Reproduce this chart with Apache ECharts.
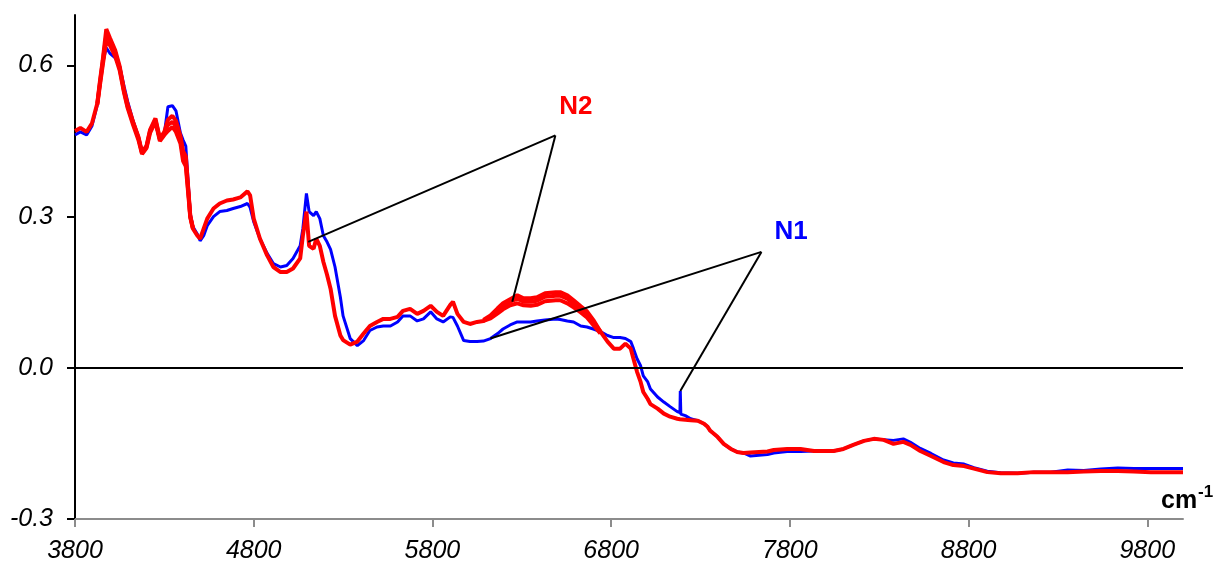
<!DOCTYPE html>
<html>
<head>
<meta charset="utf-8">
<script src="https://cdn.jsdelivr.net/npm/echarts@6/dist/echarts.min.js"></script>
<style>
html,body{margin:0;padding:0;background:#fff;}
#chart{width:1216px;height:566px;}
</style>
</head>
<body>
<div id="chart"></div>
<script>
// Wavenumber (cm-1) sample positions
const xs = [
3800,3830,3865,3895,3925,3940,3955,3975,3995,4025,
4050,4075,4095,4125,4155,4175,4200,4220,4250,4275,
4300,4320,4345,4365,4390,4405,4420,4435,4445,4460,
4485,4500,4520,4540,4575,4610,4650,4685,4725,4765,
4780,4800,4835,4875,4910,4950,4985,5020,5060,5075,
5095,5110,5135,5150,5170,5190,5210,5230,5255,5285,
5300,5340,5380,5415,5450,5490,5525,5565,5605,5635,
5675,5715,5750,5790,5825,5860,5900,5915,5940,5975,
6010,6050,6085,6125,6165,6195,6235,6275,6310,6350,
6385,6430,6490,6515,6555,6590,6630,6665,6700,6740,
6780,6815,6850,6880,6910,6925,6945,6965,6980,7005,
7020,7060,7095,7130,7170,7185,7187,7190,7215,7245,
7285,7320,7340,7355,7395,7430,7470,7505,7540,7580,
7675,7710,7785,7860,7935,8045,8100,8155,8215,8270,
8325,8380,8435,8475,8530,8590,8660,8715,8775,8830,
8905,8980,9075,9165,9260,9355,9445,9540,9635,9725,
9820,9915,10000];

// N1 (blue)
const n1 = [
0.462,0.468,0.462,0.480,0.522,0.565,0.605,0.635,0.624,0.615,
0.598,0.558,0.528,0.490,0.458,0.430,0.440,0.470,0.484,0.452,
0.465,0.518,0.520,0.510,0.466,0.452,0.440,0.360,0.306,0.280,
0.265,0.252,0.262,0.282,0.300,0.310,0.312,0.316,0.320,0.326,
0.318,0.290,0.256,0.227,0.207,0.200,0.203,0.217,0.242,0.276,
0.346,0.310,0.302,0.310,0.296,0.262,0.250,0.235,0.200,0.140,
0.103,0.058,0.044,0.054,0.074,0.081,0.083,0.083,0.091,0.103,
0.103,0.093,0.097,0.111,0.097,0.091,0.101,0.100,0.083,0.054,
0.052,0.052,0.053,0.058,0.068,0.077,0.085,0.091,0.091,0.091,
0.093,0.095,0.097,0.096,0.093,0.091,0.083,0.081,0.077,0.072,
0.064,0.060,0.060,0.058,0.052,0.038,0.018,0.004,-0.016,-0.028,
-0.042,-0.058,-0.068,-0.077,-0.087,-0.089,-0.046,-0.092,-0.095,-0.101,
-0.105,-0.111,-0.117,-0.125,-0.137,-0.151,-0.161,-0.167,-0.169,-0.175,
-0.172,-0.169,-0.166,-0.166,-0.165,-0.165,-0.161,-0.153,-0.145,-0.141,
-0.143,-0.144,-0.141,-0.148,-0.160,-0.170,-0.183,-0.189,-0.191,-0.198,
-0.205,-0.208,-0.209,-0.207,-0.207,-0.203,-0.204,-0.201,-0.199,-0.200,
-0.200,-0.200,-0.200];

// N2 (red, main replicate)
const n2 = [
0.470,0.476,0.468,0.485,0.525,0.570,0.610,0.672,0.655,0.630,
0.598,0.550,0.522,0.488,0.458,0.428,0.440,0.472,0.495,0.455,
0.468,0.492,0.500,0.490,0.460,0.430,0.420,0.350,0.300,0.276,
0.262,0.256,0.276,0.296,0.316,0.326,0.332,0.334,0.338,0.350,
0.342,0.296,0.256,0.223,0.200,0.190,0.190,0.197,0.217,0.262,
0.310,0.242,0.236,0.256,0.242,0.210,0.185,0.157,0.103,0.064,
0.055,0.046,0.052,0.068,0.083,0.091,0.097,0.097,0.101,0.113,
0.117,0.107,0.113,0.123,0.111,0.103,0.125,0.131,0.107,0.091,
0.087,0.091,0.093,0.101,0.113,0.123,0.131,0.137,0.131,0.131,
0.133,0.141,0.143,0.143,0.137,0.127,0.117,0.107,0.091,0.072,
0.052,0.038,0.038,0.048,0.038,0.018,-0.008,-0.028,-0.048,-0.062,
-0.072,-0.081,-0.091,-0.097,-0.101,-0.102,-0.102,-0.102,-0.103,-0.104,
-0.105,-0.111,-0.117,-0.125,-0.137,-0.151,-0.161,-0.167,-0.169,-0.168,
-0.166,-0.163,-0.161,-0.161,-0.165,-0.165,-0.161,-0.153,-0.145,-0.141,
-0.143,-0.151,-0.147,-0.153,-0.165,-0.175,-0.187,-0.193,-0.195,-0.200,
-0.207,-0.209,-0.209,-0.207,-0.207,-0.207,-0.206,-0.205,-0.205,-0.206,
-0.207,-0.207,-0.207];

// N2 other replicates, where they separate from the main one
const repAx = [3925,3940,3955,3975,3995,4025,4050,4075,4095,4125,4155,4175,4200,4220,4250,4275,4300,4320,4345,4365,4390,4405,4420,4435,4445,4460];
const repA1 = [0.522,0.562,0.600,0.648,0.640,0.618,0.590,0.545,0.515,0.482,0.452,0.424,0.436,0.466,0.488,0.450,0.462,0.470,0.478,0.468,0.445,0.410,0.400,0.340,0.298,0.276];
const repA2 = [0.525,0.566,0.606,0.660,0.650,0.625,0.594,0.548,0.518,0.486,0.456,0.426,0.438,0.470,0.492,0.453,0.466,0.482,0.488,0.480,0.452,0.420,0.408,0.345,0.302,0.278];
const repBx = [6085,6125,6165,6195,6235,6275,6310,6350,6385,6430,6490,6515,6555,6590,6630,6665,6700,6740];
const repB1 = [0.093,0.098,0.108,0.116,0.124,0.128,0.124,0.123,0.125,0.132,0.134,0.134,0.128,0.120,0.110,0.100,0.085,0.068];
const repB2 = [0.095,0.104,0.118,0.128,0.136,0.144,0.138,0.138,0.140,0.148,0.150,0.150,0.144,0.134,0.122,0.112,0.095,0.072];

// Axis ticks
const xTicks = [3800,4800,5800,6800,7800,8800,9800];
const yTicks = [-0.3,0.0,0.3,0.6];

// Annotations
const annN2 = {label:'N2', at:[6603,0.518], vertex:[6488,0.461], ends:[[5105,0.250],[6247,0.131]]};
const annN1 = {label:'N1', at:[7807,0.269], vertex:[7641,0.230], ends:[[6124,0.058],[7187,-0.046]]};

const FONT = 'Arial, "Liberation Sans", sans-serif';
const pairs = (xa, ya) => xa.map((x, i) => [x, ya[i]]);

const chart = echarts.init(document.getElementById('chart'), null, {renderer:'canvas'});

function annLines(a){
  return a.ends.map(e => [{coord:a.vertex},{coord:e}]);
}

const redStyle = {color:'#FF0000', width:4};
const option = {
  animation:false,
  backgroundColor:'#fff',
  grid:{left:75, right:33, top:15, bottom:47, containLabel:false, outerBoundsMode:'none'},
  xAxis:{
    type:'value', min:3800, max:10000, interval:1000,
    axisLine:{show:true, onZero:false, lineStyle:{color:'#8c8c8c', width:2}},
    axisTick:{show:true, length:8, customValues:xTicks, lineStyle:{color:'#8c8c8c', width:2}},
    axisLabel:{show:true, customValues:xTicks, margin:20, fontSize:25, fontStyle:'italic', color:'#000', fontFamily:FONT,
      formatter:v => String(v)},
    splitLine:{show:false}
  },
  yAxis:{
    type:'value', min:-0.3, max:0.7, interval:0.3,
    axisLine:{show:true, onZero:false, lineStyle:{color:'#000', width:2}},
    axisTick:{show:true, length:8, customValues:yTicks, lineStyle:{color:'#000', width:2}},
    axisLabel:{show:true, customValues:yTicks, margin:22, fontSize:25, fontStyle:'italic', color:'#000', fontFamily:FONT,
      formatter:v => Number(v).toFixed(1)},
    splitLine:{show:false}
  },
  series:[
    {
      name:'N1', type:'line', showSymbol:false, symbol:'none', data:pairs(xs, n1),
      lineStyle:{color:'#0000FF', width:3}, z:2,
      markLine:{silent:true, symbol:['none','none'], label:{show:false},
        lineStyle:{color:'#000', width:2, type:'solid'},
        data:[{yAxis:0}]}
    },
    {name:'N2', type:'line', symbol:'none', data:pairs(xs, n2), lineStyle:redStyle, z:3},
    {name:'N2a', type:'line', symbol:'none', data:pairs(repAx, repA1), lineStyle:redStyle, z:3},
    {name:'N2b', type:'line', symbol:'none', data:pairs(repAx, repA2), lineStyle:redStyle, z:3},
    {name:'N2c', type:'line', symbol:'none', data:pairs(repBx, repB1), lineStyle:redStyle, z:3},
    {name:'N2d', type:'line', symbol:'none', data:pairs(repBx, repB2), lineStyle:redStyle, z:3},
    {
      name:'ann', type:'line', data:[], z:5,
      markLine:{silent:true, symbol:['none','none'], label:{show:false},
        lineStyle:{color:'#000', width:2, type:'solid'},
        data:annLines(annN2).concat(annLines(annN1))},
      markPoint:{silent:true, symbol:'rect', symbolSize:0,
        data:[
          {coord:annN2.at, label:{show:true, position:'inside', formatter:annN2.label, color:'#FF0000', fontWeight:'bold', fontSize:26, fontFamily:FONT}},
          {coord:annN1.at, label:{show:true, position:'inside', formatter:annN1.label, color:'#0000FF', fontWeight:'bold', fontSize:26, fontFamily:FONT}}
        ]}
    }
  ],
  graphic:[
    {type:'text', x:1161, y:501, silent:true, style:{text:'cm', font:'bold 25px ' + FONT, fill:'#000', align:'left', verticalAlign:'middle'}},
    {type:'text', x:1198, y:492, silent:true, style:{text:'-1', font:'bold 17px ' + FONT, fill:'#000', align:'left', verticalAlign:'middle'}}
  ]
};
chart.setOption(option);
</script>
</body>
</html>
